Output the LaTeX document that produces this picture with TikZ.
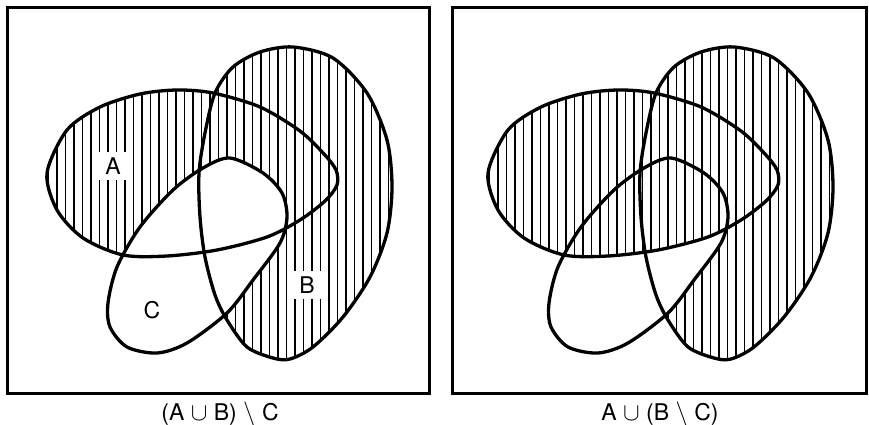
\documentclass[tikz,border=0pt]{standalone}
\usepackage{fontspec}
\setmainfont{TeX Gyre Heros}
\usetikzlibrary{positioning}

% the three sets, traced in pixel units
\newcommand{\setA}{plot[smooth cycle] coordinates {(47,173) (67,130) (100,107) (140,94) (177,90) (213,93) (260,107) (300,131) (324,154) (336,170) (337,185) (325,201) (300,220) (267,237) (217,250) (167,256) (123,255) (83,238) (57,210)}}
\newcommand{\setB}{plot[smooth cycle] coordinates {(293,47) (333,58) (367,93) (387,140) (392,187) (387,233) (370,277) (343,317) (313,347) (290,359) (273,358) (247,347) (227,320) (215,295) (205,257) (200,217) (199,173) (205,133) (215,93) (233,67) (260,52)}}
\newcommand{\setC}{plot[smooth cycle] coordinates {(230,158) (263,173) (282,193) (287,217) (280,243) (253,280) (227,313) (187,343) (157,353) (127,347) (110,327) (108,303) (117,267) (140,227) (173,190) (203,168)}}
\newcommand{\hatchlines}{\foreach \hx in {40,48.5,...,400} \draw[hatch] (\hx,30) -- (\hx,380);}

\begin{document}
\begin{tikzpicture}[
  x=1pt, y=-1pt,
  frame/.style={draw, line width=3pt},
  outline/.style={draw, line width=3.3pt},
  hatch/.style={line width=1.5pt},
  setlabel/.style={fill=white, inner sep=6pt, font=\fontsize{23}{27}\selectfont},
  caption/.style={font=\fontsize{23}{27}\selectfont}
]
\useasboundingbox (0,0) rectangle (869,425);
% left panel: (A u B) \ C
\draw[frame] (7,8) rectangle (429,393);
\begin{scope}
  \clip \setA;
  \hatchlines
\end{scope}
\begin{scope}
  \clip \setB;
  \hatchlines
\end{scope}
\fill[white] \setC;
\draw[outline] \setA;
\draw[outline] \setB;
\draw[outline] \setC;
\node[setlabel] (labA) at (113,166) {A};
\node[setlabel] (labB) at (307,285) {B};
\node[setlabel] (labC) at (152,310) {C};
\node[caption] (capL) at (220,414) {(A $\cup$ B) $\setminus$ C};
% right panel: A u (B \ C)
\draw[frame] (452,8) rectangle (866,393);
\begin{scope}[xshift=441pt]
  \begin{scope}
    \clip \setB;
    \hatchlines
  \end{scope}
  \fill[white] \setC;
  \begin{scope}
    \clip \setA;
    \hatchlines
  \end{scope}
  \draw[outline] \setA;
  \draw[outline] \setB;
  \draw[outline] \setC;
\end{scope}
\node[caption] (capR) at (660,414) {A $\cup$ (B $\setminus$ C)};
\end{tikzpicture}
\end{document}
